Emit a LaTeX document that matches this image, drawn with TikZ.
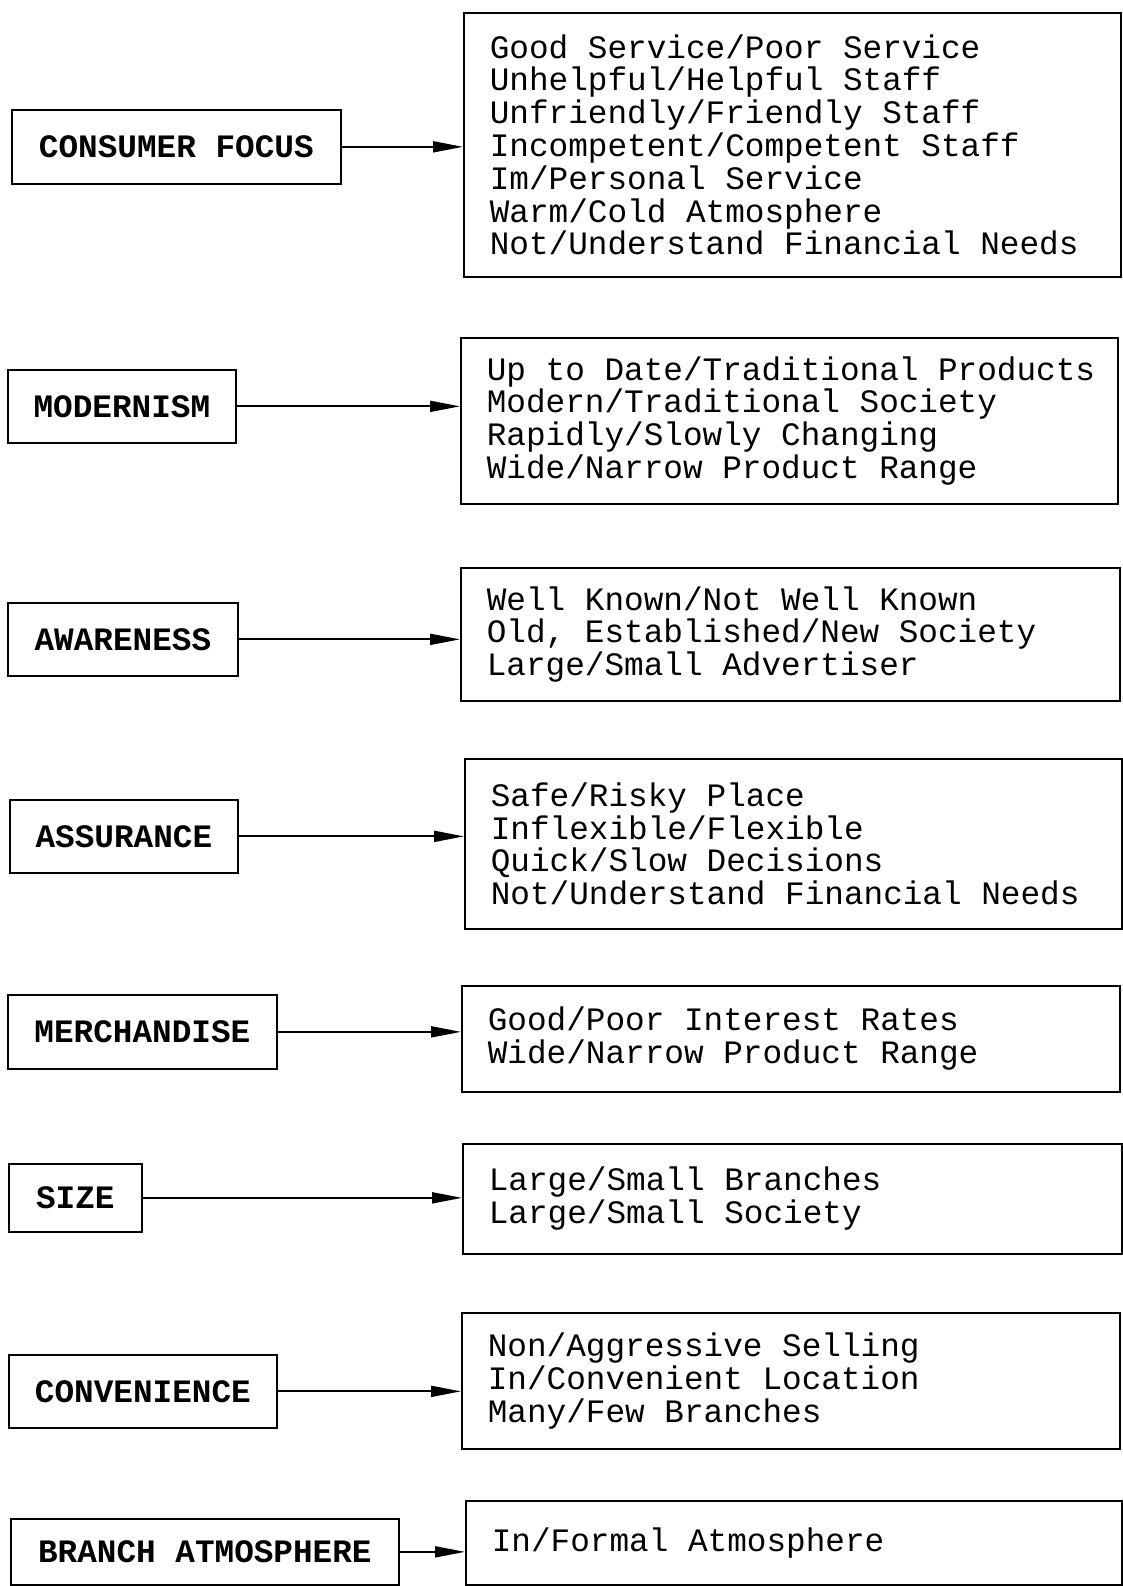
\documentclass[tikz,border=0pt]{standalone}
\usepackage{fontspec}
\setmonofont{Liberation Mono}
\usetikzlibrary{arrows.meta}
\begin{document}
\begin{tikzpicture}[x=1pt,y=-1pt,
  every node/.style={font=\ttfamily\fontsize{32.7}{32.8}\selectfont,
    execute at begin node={\spaceskip=19.62pt\relax}},
  factor/.style={draw, line width=1.7pt, anchor=north west, inner sep=0pt,
    font=\ttfamily\bfseries\fontsize{32.7}{32.8}\selectfont},
  items/.style={draw, line width=1.7pt, anchor=north west, inner xsep=26pt,
    inner ysep=0pt, align=left},
  link/.style={line width=1.9pt, -{Triangle[length=30pt,width=11pt]}}]
\useasboundingbox (0,0) rectangle (1123,1586);

% consumer focus
\node[factor, minimum width=329pt, minimum height=74pt] (f1) at (11,109) {CONSUMER FOCUS};
\node[items, text width=605pt, minimum height=264pt] (i1) at (463,12)
  {Good Service/Poor Service\\Unhelpful/Helpful Staff\\Unfriendly/Friendly Staff\\
   Incompetent/Competent Staff\\Im/Personal Service\\Warm/Cold Atmosphere\\
   Not/Understand Financial Needs};
\draw[link] (f1.east) -- (f1.east -| i1.west);

% modernism
\node[factor, minimum width=228pt, minimum height=73pt] (f2) at (7,369) {MODERNISM};
\node[items, text width=605pt, minimum height=166pt] (i2) at (460,337)
  {\mbox{Up to Date/Traditional Products}\\Modern/Traditional Society\\
   Rapidly/Slowly Changing\\Wide/Narrow Product Range};
\draw[link] (f2.east) -- (f2.east -| i2.west);

% awareness
\node[factor, minimum width=230pt, minimum height=73pt] (f3) at (7,602) {AWARENESS};
\node[items, text width=607pt, minimum height=133pt] (i3) at (460,567)
  {Well Known/Not Well Known\\Old, Established/New Society\\Large/Small Advertiser};
\draw[link] (f3.east) -- (f3.east -| i3.west);

% assurance
\node[factor, minimum width=228pt, minimum height=73pt] (f4) at (9,799) {ASSURANCE};
\node[items, text width=605pt, minimum height=170pt] (i4) at (464,758)
  {Safe/Risky Place\\Inflexible/Flexible\\Quick/Slow Decisions\\
   Not/Understand Financial Needs};
\draw[link] (f4.east) -- (f4.east -| i4.west);

% merchandise
\node[factor, minimum width=269pt, minimum height=74pt] (f5) at (7,994) {MERCHANDISE};
\node[items, text width=606pt, minimum height=106pt] (i5) at (461,985)
  {Good/Poor Interest Rates\\Wide/Narrow Product Range};
\draw[link] (f5.east) -- (f5.east -| i5.west);

% size
\node[factor, minimum width=133pt, minimum height=68pt] (f6) at (8,1163) {SIZE};
\node[items, text width=607pt, minimum height=110pt] (i6) at (462,1143)
  {Large/Small Branches\\Large/Small Society};
\draw[link] (f6.east) -- (f6.east -| i6.west);

% convenience
\node[factor, minimum width=268pt, minimum height=73pt] (f7) at (8,1354) {CONVENIENCE};
\node[items, text width=606pt, minimum height=136pt] (i7) at (461,1312)
  {Non/Aggressive Selling\\In/Convenient Location\\Many/Few Branches};
\draw[link] (f7.east) -- (f7.east -| i7.west);

% branch atmosphere
\node[factor, minimum width=388pt, minimum height=66pt] (f8) at (10,1518) {BRANCH ATMOSPHERE};
\node[items, text width=604pt, minimum height=84pt] (i8) at (465,1500)
  {In/Formal Atmosphere};
\draw[link] (f8.east) -- (f8.east -| i8.west);
\end{tikzpicture}
\end{document}
